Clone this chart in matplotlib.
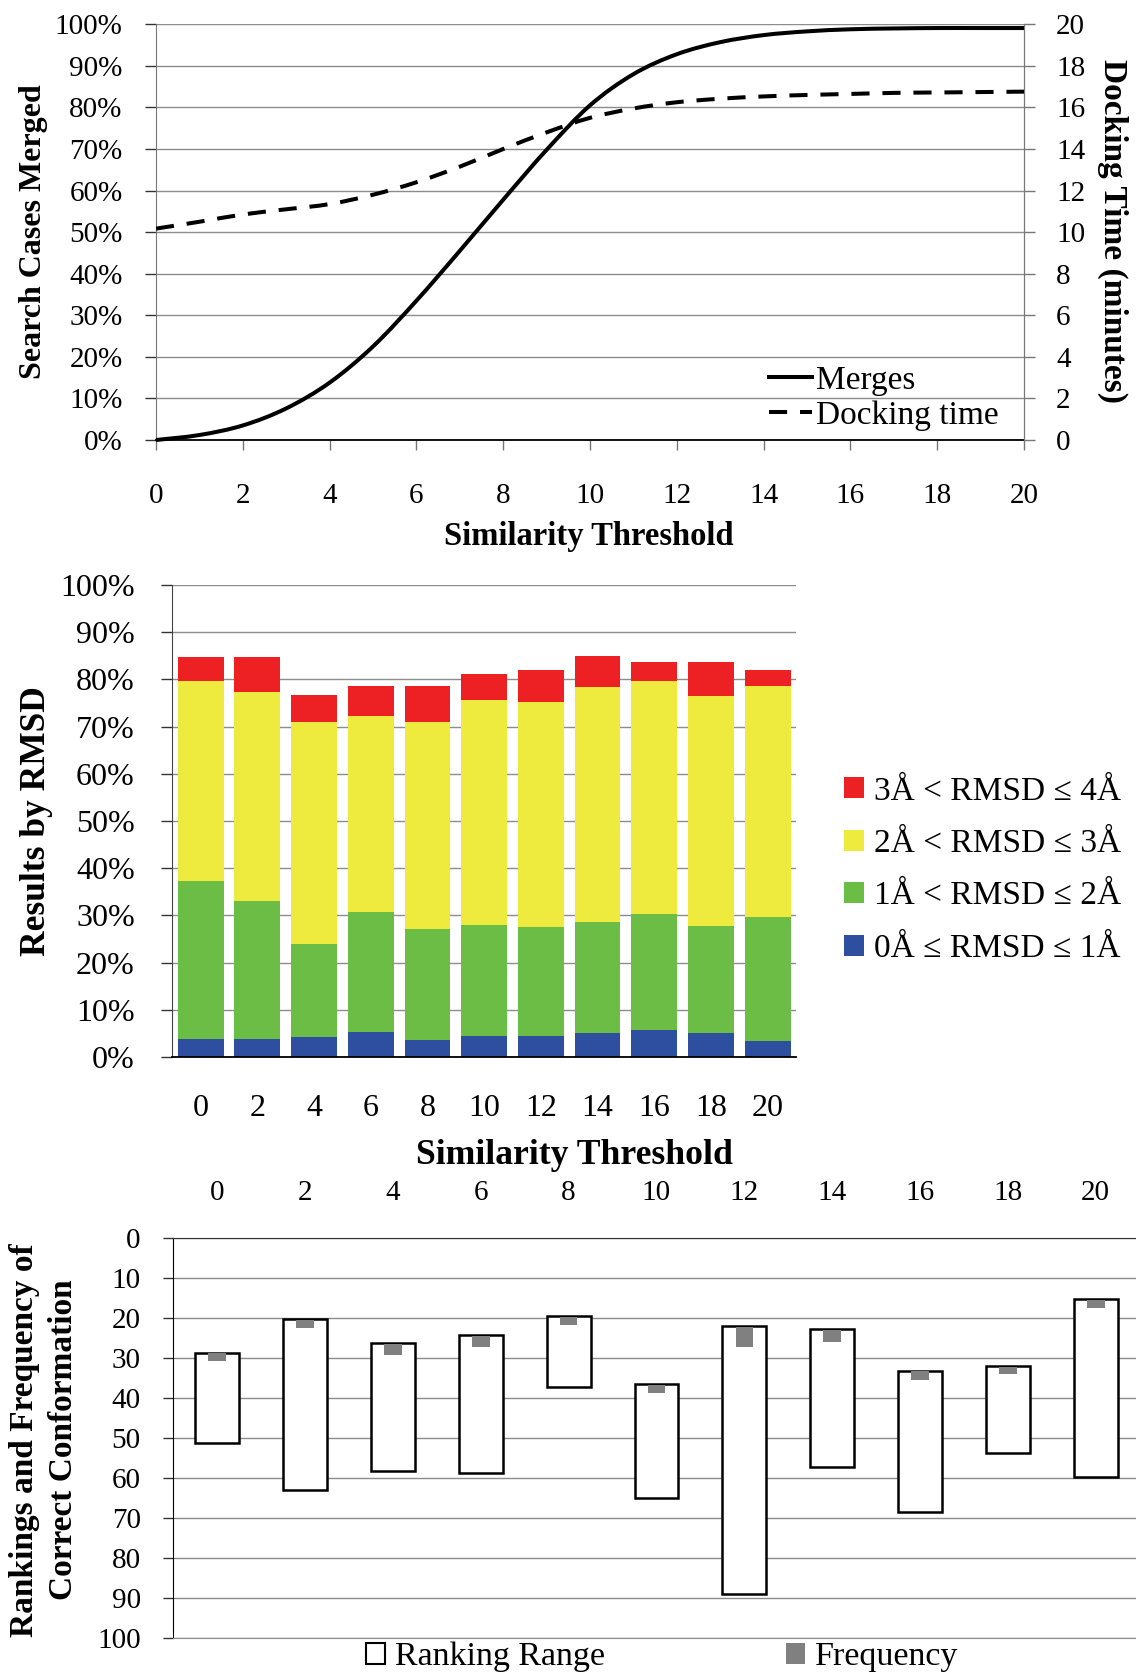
import matplotlib
matplotlib.use('Agg')
import matplotlib.pyplot as plt
from matplotlib.patches import Patch, PathPatch
from matplotlib.path import Path
from matplotlib.lines import Line2D
from matplotlib.ticker import FuncFormatter, MultipleLocator
import numpy as np

plt.rcParams['font.family'] = ['Liberation Serif', 'DejaVu Serif']

W, H = 1136, 1675

# ---------------- data ----------------
# Top chart
thresholds = list(range(21))
merges_pct = [0, 1.2, 3.5, 7.6, 13.8, 22.5, 33.5, 45.5, 57.8, 69.8, 80.5,
              88.0, 92.8, 95.7, 97.4, 98.3, 98.8, 99.0, 99.1, 99.1, 99.1]
docking_min = [10.17, 10.5, 10.85, 11.1, 11.35, 11.8, 12.4, 13.15, 14.0, 14.8,
               15.5, 15.95, 16.25, 16.42, 16.53, 16.6, 16.65, 16.7, 16.72, 16.74, 16.76]

# Middle chart (percent of results per RMSD band)
bar_labels = ['0', '2', '4', '6', '8', '10', '12', '14', '16', '18', '20']
rmsd_0_1 = [3.9, 3.9, 4.2, 5.3, 3.7, 4.5, 4.5, 5.1, 5.8, 5.1, 3.4]
rmsd_1_2 = [33.4, 29.2, 19.7, 25.4, 23.5, 23.4, 23.0, 23.6, 24.4, 22.6, 26.3]
rmsd_2_3 = [42.4, 44.2, 47.0, 41.6, 43.7, 47.7, 47.7, 49.7, 49.5, 48.7, 48.8]
rmsd_3_4 = [5.0, 7.4, 5.9, 6.4, 7.6, 5.6, 6.7, 6.5, 3.9, 7.2, 3.4]
band_labels = ['0Å ≤ RMSD ≤ 1Å', '1Å < RMSD ≤ 2Å', '2Å < RMSD ≤ 3Å', '3Å < RMSD ≤ 4Å']
band_colors = ['#2E4E9F', '#6CBD45', '#EEEA3E', '#ED2024']

# Bottom chart
rank_min = [28.7, 20.3, 26.4, 24.3, 19.6, 36.5, 22.0, 22.7, 33.2, 32.1, 15.2]
rank_max = [51.4, 63.0, 58.2, 58.8, 37.4, 65.2, 89.2, 57.3, 68.6, 53.7, 59.8]
freq_low = [28.9, 20.5, 26.6, 24.5, 19.8, 36.8, 22.2, 23.0, 33.4, 32.3, 15.4]
freq_high = [30.8, 22.5, 29.3, 27.2, 21.9, 38.9, 27.3, 26.1, 35.5, 34.1, 17.6]


def fx(px):
    return px / W


def fy(py):
    return 1 - py / H


def rect(l, t, r, b):
    return [fx(l), fy(b), (r - l) / W, (b - t) / H]


def smooth_path(xs, ys):
    """Smoothed-line rendering (Catmull-Rom as cubic Bezier) through the data points."""
    p = np.column_stack([xs, ys]).astype(float)
    n = len(p)
    verts = [p[0]]
    codes = [Path.MOVETO]
    for i in range(n - 1):
        p0 = p[i - 1] if i > 0 else p[i]
        p1 = p[i]
        p2 = p[i + 1]
        p3 = p[i + 2] if i + 2 < n else p[i + 1]
        c1 = p1 + (p2 - p0) / 6.0
        c2 = p2 - (p3 - p1) / 6.0
        verts += [c1, c2, p2]
        codes += [Path.CURVE4] * 3
    return Path(verts, codes)


fig = plt.figure(figsize=(W / 100, H / 100), dpi=100)

GRID = '#8c8c8c'
TICK_FS = 21
DASH = (0, (4.5, 3.2))

# ---------------- top chart ----------------
ax1 = fig.add_axes(rect(156, 24.3, 1024, 440))
ax1.add_patch(PathPatch(smooth_path(thresholds, merges_pct), fill=False,
                        edgecolor='black', lw=2.9, clip_on=False, zorder=3,
                        capstyle='butt'))
ax1.set_xlim(0, 20)
ax1.set_ylim(0, 100)
ax1.xaxis.set_major_locator(MultipleLocator(2))
ax1.yaxis.set_major_locator(MultipleLocator(10))
ax1.yaxis.set_major_formatter(FuncFormatter(lambda v, p: f'{int(v)}%'))
ax1.grid(axis='y', color=GRID, lw=1.0)
ax1.set_axisbelow(True)
ax1.spines['top'].set_visible(False)
ax1.spines['left'].set_color('#777777')
ax1.spines['right'].set_color('#777777')
ax1.spines['bottom'].set_color('black')
ax1.spines['bottom'].set_linewidth(1.3)
ax1.tick_params(axis='y', direction='out', length=8, width=1.0, color='#333333',
                labelsize=TICK_FS, pad=16)
ax1.tick_params(axis='x', direction='out', length=7, width=1.0, color='#777777',
                labelsize=TICK_FS, pad=24)

ax2 = ax1.twinx()
ax2.add_patch(PathPatch(smooth_path(thresholds, docking_min), fill=False,
                        edgecolor='black', lw=2.9, ls=DASH, zorder=3,
                        capstyle='butt'))
ax2.set_ylim(0, 20)
ax2.yaxis.set_major_locator(MultipleLocator(2))
ax2.spines['top'].set_visible(False)
ax2.spines['left'].set_visible(False)
ax2.spines['bottom'].set_visible(False)
ax2.spines['right'].set_color('#777777')
ax2.tick_params(axis='y', direction='out', length=8, width=1.0, color='#777777',
                labelsize=TICK_FS, pad=15)

handles = [Line2D([], [], color='black', lw=2.9),
           Line2D([], [], color='black', lw=2.9, ls=DASH)]
ax2.legend(handles, ['Merges', 'Docking time'], loc='center left',
           bbox_to_anchor=(fx(769), fy(398)), bbox_transform=fig.transFigure,
           frameon=False, fontsize=24, handlelength=1.3, handletextpad=0.1,
           labelspacing=0.15, borderpad=0, borderaxespad=0)

fig.text(fx(34), fy(232), 'Search Cases Merged', rotation=90, fontsize=23,
         fontweight='bold', ha='center', va='center')
fig.text(fx(1113), fy(231), 'Docking Time (minutes)', rotation=-90, fontsize=24,
         fontweight='bold', ha='center', va='center')
fig.text(fx(589), fy(536), 'Similarity Threshold', fontsize=23.5,
         fontweight='bold', ha='center', va='center')

# ---------------- middle chart ----------------
axm = fig.add_axes(rect(172.3, 585, 796, 1057))
xpos = np.arange(len(bar_labels))
bands = [rmsd_0_1, rmsd_1_2, rmsd_2_3, rmsd_3_4]
bottom = np.zeros(len(bar_labels))
bar_handles = []
for vals, col, lab in zip(bands, band_colors, band_labels):
    axm.bar(xpos, vals, bottom=bottom, width=0.806, color=col, zorder=2)
    bottom = bottom + np.array(vals)
    bar_handles.append(Patch(facecolor=col, edgecolor='none', label=lab))
axm.set_xlim(-0.5, len(bar_labels) - 0.5)
axm.set_ylim(0, 100)
axm.set_xticks(xpos)
axm.set_xticklabels(bar_labels)
axm.yaxis.set_major_locator(MultipleLocator(10))
axm.yaxis.set_major_formatter(FuncFormatter(lambda v, p: f'{int(v)}%'))
axm.grid(axis='y', color=GRID, lw=1.0)
axm.set_axisbelow(True)
axm.spines['top'].set_visible(False)
axm.spines['right'].set_visible(False)
axm.spines['left'].set_color('#444444')
axm.spines['bottom'].set_color('black')
axm.spines['bottom'].set_linewidth(1.3)
axm.tick_params(axis='y', direction='out', length=8, width=1.0, color='#333333',
                labelsize=23, pad=19)
axm.tick_params(axis='x', length=0, labelsize=23, pad=27)

fig.legend(bar_handles[::-1], band_labels[::-1], loc='center left',
           bbox_to_anchor=(fx(844), fy(870)), frameon=False, fontsize=24,
           handlelength=0.6, handleheight=0.6, handletextpad=0.3,
           labelspacing=0.66, borderpad=0, borderaxespad=0)

fig.text(fx(37), fy(821), 'Results by RMSD', rotation=90, fontsize=25.5,
         fontweight='bold', ha='center', va='center')
fig.text(fx(574), fy(1155), 'Similarity Threshold', fontsize=25.7,
         fontweight='bold', ha='center', va='center')

# ---------------- bottom chart ----------------
axb = fig.add_axes(rect(173.3, 1238, 173.3 + 11 * 87.85, 1637.5))
xb = np.arange(len(bar_labels))
axb.bar(xb, np.subtract(rank_max, rank_min), bottom=rank_min, width=0.5,
        facecolor='white', edgecolor='black', lw=1.8, zorder=2)
axb.bar(xb, np.subtract(freq_high, freq_low), bottom=freq_low, width=0.2,
        color='#808080', zorder=3)
axb.set_xlim(-0.5, len(bar_labels) - 0.5)
axb.set_ylim(100, 0)
axb.xaxis.tick_top()
axb.set_xticks(xb)
axb.set_xticklabels(bar_labels)
axb.yaxis.set_major_locator(MultipleLocator(10))
axb.grid(axis='y', color=GRID, lw=1.0)
axb.set_axisbelow(True)
axb.spines['right'].set_visible(False)
axb.spines['top'].set_color('#333333')
axb.spines['bottom'].set_color(GRID)
axb.spines['left'].set_color('black')
axb.tick_params(axis='y', direction='out', length=7, width=1.0, color='#333333',
                labelsize=TICK_FS, pad=16.5)
axb.tick_params(axis='x', length=0, labelsize=TICK_FS, pad=23)

leg_handles = [Patch(facecolor='white', edgecolor='black', lw=1.5),
               Patch(facecolor='#808080', edgecolor='none')]
fig.legend(leg_handles, ['Ranking Range', 'Frequency'], loc='center left',
           bbox_to_anchor=(fx(366), fy(1657)), ncol=2, frameon=False,
           fontsize=24.5, handlelength=0.56, handleheight=0.56,
           handletextpad=0.3, columnspacing=5.3, borderpad=0, borderaxespad=0)

fig.text(fx(44), fy(1440), 'Rankings and Frequency of\nCorrect Conformation',
         rotation=90, fontsize=24, fontweight='bold', ha='center', va='center',
         linespacing=1.3, multialignment='center')

fig.savefig('out.png', dpi=100)
